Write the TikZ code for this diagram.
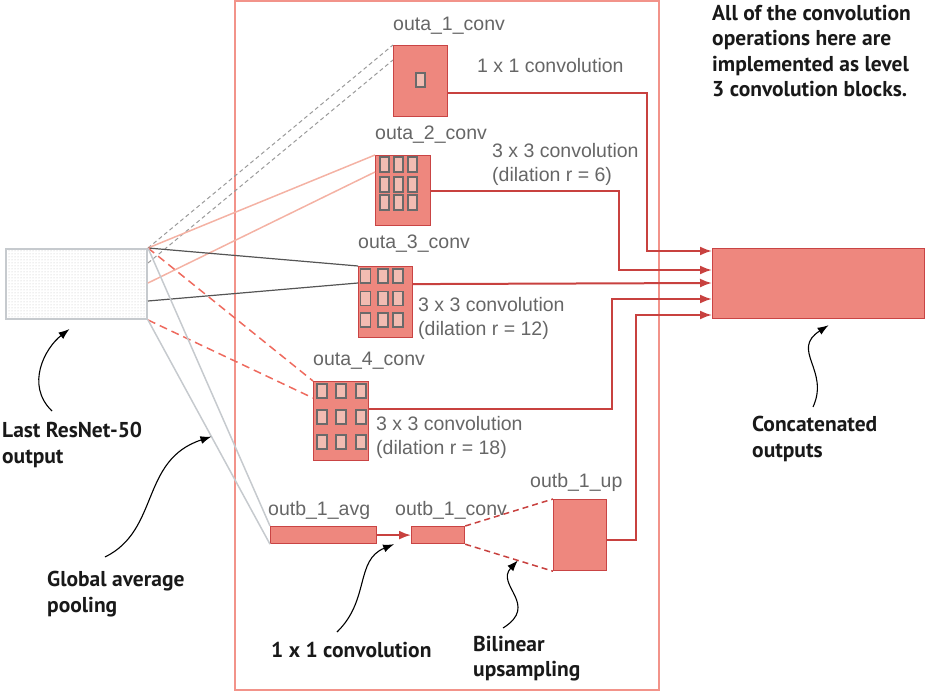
\documentclass[tikz,border=0pt]{standalone}
\usepackage{fontspec}
\setmainfont{Liberation Sans}
\newfontfamily\notefont{PT Sans}
\usetikzlibrary{arrows.meta,calc,patterns}
\definecolor{boxred}{HTML}{EE877E}
\definecolor{edgered}{HTML}{C94444}
\definecolor{linkred}{HTML}{C8413F}
\definecolor{framered}{HTML}{F2938A}
\definecolor{cellpink}{HTML}{F2BCB2}
\definecolor{cellgray}{HTML}{6A6A6A}
\definecolor{labelgray}{HTML}{666666}
\definecolor{paleline}{HTML}{F4B2A4}
\definecolor{darkline}{HTML}{555555}
\definecolor{dashgray}{HTML}{9A9A9A}
\definecolor{dashred}{HTML}{EE6A5E}
\definecolor{greyline}{HTML}{C6CACE}
\tikzset{
  block/.style={draw=edgered, fill=boxred, line width=1.2pt, inner sep=0pt, anchor=north west},
  cell/.style={draw=cellgray, fill=cellpink, line width=1.5pt},
  tag/.style={text=labelgray, font=\fontsize{19.5}{24}\selectfont, inner sep=0pt, anchor=base west},
  desc/.style={text=labelgray, font=\fontsize{19.5}{24}\selectfont, inner sep=0pt, anchor=north west, align=left},
  note/.style={font=\notefont\bfseries\fontsize{21.5}{25.5}\selectfont, text=black!90, inner sep=0pt, anchor=north west, align=left},
  link/.style={draw=linkred, line width=2pt, ->},
  pointer/.style={line width=1.1pt, -{Latex[length=11pt,width=8pt]}},
}
\begin{document}
\begin{tikzpicture}[x=1pt, y=-1pt, >={Latex[length=12pt,width=9pt]}]
    \useasboundingbox (0,0) rectangle (925,692);
    \draw[framered, line width=1.5pt] (235,1) rectangle (659,690);

    \node[draw=greyline, line width=2pt, pattern=dots, pattern color=gray!50, minimum width=141pt, minimum height=70pt, inner sep=0pt, anchor=north west] (in) at (5,248) {};
    \node[block, minimum width=54pt, minimum height=71pt] (a1) at (393,45) {};
    \node[block, minimum width=55pt, minimum height=70pt] (a2) at (375,155) {};
    \node[block, minimum width=54pt, minimum height=71pt] (a3) at (358,266) {};
    \node[block, minimum width=55pt, minimum height=79pt] (a4) at (313,381) {};
    \node[block, minimum width=106pt, minimum height=17pt] (bavg) at (270,526) {};
    \node[block, minimum width=53pt, minimum height=17pt] (bconv) at (411,526) {};
    \node[block, minimum width=53pt, minimum height=71pt] (bup) at (553,499) {};
    \node[block, minimum width=212pt, minimum height=70pt] (cat) at (712,248) {};

    \draw[cell] (416,73) rectangle (425,87);
    \foreach \x in {384.5,398.5,412.5}
        \foreach \y in {164.5,184.5,202.5}
            \draw[cell, shift={(\x,\y)}] (-4.5,-7.5) rectangle (4.5,7.5);
    \foreach \x in {365.5,383,398}
        \foreach \y in {276,298.5,320}
            \draw[cell, shift={(\x,\y)}] (-5,-7) rectangle (5,7);
    \foreach \x in {322,341,361}
        \foreach \y in {391,417,442}
            \draw[cell, shift={(\x,\y)}] (-5,-7) rectangle (5,7);

    \node[tag] (t1) at (393,31) {outa\_1\_conv};
    \node[tag] (t2) at (375,140) {outa\_2\_conv};
    \node[tag] (t3) at (358,249) {outa\_3\_conv};
    \node[tag] (t4) at (313,365) {outa\_4\_conv};
    \node[tag] (t5) at (268,515) {outb\_1\_avg};
    \node[tag] (t6) at (395,515) {outb\_1\_conv};
    \node[tag] (t7) at (530,487) {outb\_1\_up};

    \node[tag] (d1) at (477,73) {1 x 1 convolution};
    \node[desc] (d2) at (492,143) {3 x 3 convolution\\(dilation r = 6)};
    \node[desc] (d3) at (418,297) {3 x 3 convolution\\(dilation r = 12)};
    \node[desc] (d4) at (376,416) {3 x 3 convolution\\(dilation r = 18)};

    \coordinate (p1) at ([yshift=-15pt]in.north east);
    \coordinate (p2) at ([yshift=-35pt]in.north east);
    \coordinate (p3) at ([yshift=-53pt]in.north east);
    \draw[dashgray, line width=1pt, dash pattern=on 4pt off 3pt] (in.north east) -- (a1.north west);
    \draw[dashgray, line width=1pt, dash pattern=on 4pt off 3pt] (p1) -- ([yshift=-15pt]a1.north west);
    \draw[paleline, line width=1.5pt] (in.north east) -- (a2.north west);
    \draw[paleline, line width=1.5pt] (p2) -- ([yshift=-17pt]a2.north west);
    \draw[darkline, line width=1.2pt] (in.north east) -- (a3.north west);
    \draw[darkline, line width=1.2pt] (p3) -- ([yshift=-17pt]a3.north west);
    \draw[dashred, line width=1.5pt, dash pattern=on 8pt off 5pt] (in.north east) -- (a4.north west);
    \draw[dashred, line width=1.5pt, dash pattern=on 8pt off 5pt] (in.south east) -- ([yshift=-17pt]a4.north west);
    \draw[greyline, line width=1.5pt] (in.north east) -- (bavg.north west);
    \draw[greyline, line width=1.5pt] (in.south east) -- (bavg.south west);

    \coordinate (c1) at ([yshift=-3pt]cat.north west);
    \coordinate (c2) at ([yshift=-22pt]cat.north west);
    \coordinate (c3) at ([yshift=-35pt]cat.north west);
    \coordinate (c4) at ([yshift=-51pt]cat.north west);
    \coordinate (c5) at ([yshift=-67pt]cat.north west);
    \draw[link] ([yshift=-12pt]a1.east) -| ([xshift=-65pt]c1) -- (c1);
    \draw[link] (a2.east) -| ([xshift=-93pt]c2) -- (c2);
    \draw[link] ([yshift=18pt]a3.east) -- (c3);
    \draw[link] ([yshift=12.5pt]a4.east) -| ([xshift=-100pt]c4) -- (c4);
    \draw[link] ([yshift=-4.5pt]bup.east) -| ([xshift=-76pt]c5) -- (c5);

    \draw[link] (bavg.east) -- (bconv.west);
    \draw[linkred, line width=1.5pt, dash pattern=on 6pt off 4pt] (bconv.north east) -- (bup.north west);
    \draw[linkred, line width=1.5pt, dash pattern=on 6pt off 4pt] (bconv.south east) -- (bup.south west);

    \node[note] (n1) at (2,422) {Last ResNet-50\\output};
    \node[note] (n2) at (47,571) {Global average\\pooling};
    \node[note] (n3) at (271,642) {1 x 1 convolution};
    \node[note] (n4) at (473,636) {Bilinear\\upsampling};
    \node[note] (n5) at (752,416) {Concatenated\\outputs};
    \node[note] (n6) at (712,5) {All of the convolution\\operations here are\\implemented as level\\3 convolution blocks.};

    \coordinate (gp) at ($(in.south east)!.52!(bavg.south west)$);
    \coordinate (gc) at ($(bavg.south east)!.5!(bconv.south west)$);
    \coordinate (gu) at ($(bconv.south east)!.6!(bup.south west)$);
    \draw[pointer] ([shift={(50,-11)}]n1.north west) .. controls (25,385) and (45,348) .. ([shift={(-7,9)}]in.south);
    \draw[pointer] ([shift={(58,-14)}]n2.north west) .. controls (160,530) and (140,460) .. (gp);
    \draw[pointer] ([shift={(66,-10)}]n3.north west) .. controls (370,600) and (355,560) .. (gc);
    \draw[pointer] ([shift={(30,-8)}]n4.north west) .. controls (540,605) and (495,585) .. (gu);
    \draw[pointer] ([shift={(61,-9)}]n5.north west) .. controls (830,370) and (790,350) .. ([shift={(10,6)}]cat.south);
\end{tikzpicture}
\end{document}
